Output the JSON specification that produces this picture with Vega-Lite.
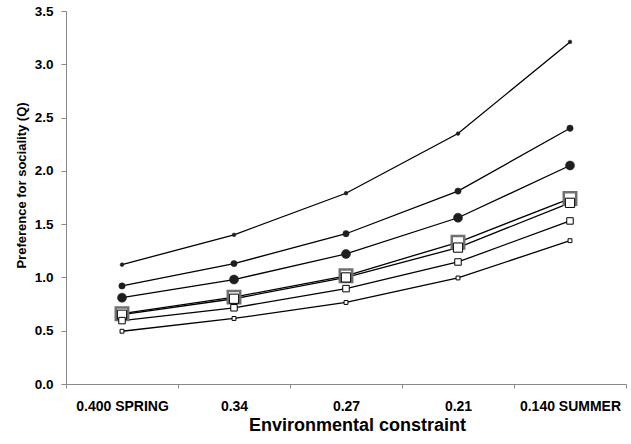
{
  "$schema": "https://vega.github.io/schema/vega-lite/v6.json",
  "width": 560,
  "height": 373,
  "autosize": "none",
  "padding": {"left": 66, "top": 11, "right": 5, "bottom": 60},
  "background": "white",
  "config": {"view": {"stroke": null}, "font": "Liberation Sans"},
  "data": {
    "values": [
      {"series": "S1", "constraint": "0.400 SPRING", "Q": 1.12},
      {"series": "S1", "constraint": "0.34", "Q": 1.40},
      {"series": "S1", "constraint": "0.27", "Q": 1.79},
      {"series": "S1", "constraint": "0.21", "Q": 2.35},
      {"series": "S1", "constraint": "0.140 SUMMER", "Q": 3.21},
      {"series": "S2", "constraint": "0.400 SPRING", "Q": 0.92},
      {"series": "S2", "constraint": "0.34", "Q": 1.13},
      {"series": "S2", "constraint": "0.27", "Q": 1.41},
      {"series": "S2", "constraint": "0.21", "Q": 1.81},
      {"series": "S2", "constraint": "0.140 SUMMER", "Q": 2.40},
      {"series": "S3", "constraint": "0.400 SPRING", "Q": 0.81},
      {"series": "S3", "constraint": "0.34", "Q": 0.98},
      {"series": "S3", "constraint": "0.27", "Q": 1.22},
      {"series": "S3", "constraint": "0.21", "Q": 1.56},
      {"series": "S3", "constraint": "0.140 SUMMER", "Q": 2.05},
      {"series": "S4", "constraint": "0.400 SPRING", "Q": 0.66},
      {"series": "S4", "constraint": "0.34", "Q": 0.815},
      {"series": "S4", "constraint": "0.27", "Q": 1.015},
      {"series": "S4", "constraint": "0.21", "Q": 1.33},
      {"series": "S4", "constraint": "0.140 SUMMER", "Q": 1.74},
      {"series": "S5", "constraint": "0.400 SPRING", "Q": 0.65},
      {"series": "S5", "constraint": "0.34", "Q": 0.80},
      {"series": "S5", "constraint": "0.27", "Q": 1.00},
      {"series": "S5", "constraint": "0.21", "Q": 1.28},
      {"series": "S5", "constraint": "0.140 SUMMER", "Q": 1.70},
      {"series": "S6", "constraint": "0.400 SPRING", "Q": 0.595},
      {"series": "S6", "constraint": "0.34", "Q": 0.715},
      {"series": "S6", "constraint": "0.27", "Q": 0.895},
      {"series": "S6", "constraint": "0.21", "Q": 1.145},
      {"series": "S6", "constraint": "0.140 SUMMER", "Q": 1.53},
      {"series": "S7", "constraint": "0.400 SPRING", "Q": 0.495},
      {"series": "S7", "constraint": "0.34", "Q": 0.615},
      {"series": "S7", "constraint": "0.27", "Q": 0.765},
      {"series": "S7", "constraint": "0.21", "Q": 0.995},
      {"series": "S7", "constraint": "0.140 SUMMER", "Q": 1.345}
    ]
  },
  "encoding": {
    "x": {
      "field": "constraint",
      "type": "ordinal",
      "sort": ["0.400 SPRING", "0.34", "0.27", "0.21", "0.140 SUMMER"],
      "scale": {"type": "band", "paddingInner": 0, "paddingOuter": 0},
      "axis": {
        "title": "Environmental constraint",
        "labelAngle": 0,
        "labelFontSize": 14,
        "labelFontWeight": "bold",
        "labelColor": "black",
        "labelPadding": 11,
        "tickSize": 4,
        "tickBand": "extent",
        "tickColor": "#888888",
        "domainColor": "#888888",
        "grid": false,
        "titleFontSize": 18,
        "titleFontWeight": "bold",
        "titleColor": "black",
        "titlePadding": 3,
        "titleX": 291
      }
    },
    "y": {
      "field": "Q",
      "type": "quantitative",
      "scale": {"domain": [0, 3.5], "nice": false, "zero": true},
      "axis": {
        "title": "Preference for sociality (Q)",
        "values": [0, 0.5, 1, 1.5, 2, 2.5, 3, 3.5],
        "format": ".1f",
        "labelFontSize": 13.5,
        "labelFontWeight": "bold",
        "labelColor": "black",
        "labelPadding": 8,
        "tickSize": 5,
        "tickColor": "#888888",
        "domainColor": "#888888",
        "grid": false,
        "titleFontSize": 13,
        "titleFontWeight": "bold",
        "titleColor": "black",
        "titleAngle": -90,
        "titleAlign": "center",
        "titleBaseline": "alphabetic",
        "titleX": -41,
        "titleY": 174
      }
    }
  },
  "layer": [
    {
      "mark": {"type": "line", "color": "black", "strokeWidth": 1.3},
      "encoding": {"detail": {"field": "series", "type": "nominal"}}
    },
    {
      "mark": {"type": "point", "filled": true, "opacity": 1, "fillOpacity": 1, "strokeOpacity": 1},
      "encoding": {
        "shape": {
          "field": "series", "type": "nominal", "legend": null,
          "scale": {"domain": ["S1","S2","S3","S4","S5","S6","S7"], "range": ["circle","circle","circle","square","square","square","square"]}
        },
        "fill": {
          "field": "series", "type": "nominal", "legend": null,
          "scale": {"domain": ["S1","S2","S3","S4","S5","S6","S7"], "range": ["#1e1e1e","#1e1e1e","#1e1e1e","white","white","white","white"]}
        },
        "stroke": {
          "field": "series", "type": "nominal", "legend": null,
          "scale": {"domain": ["S1","S2","S3","S4","S5","S6","S7"], "range": ["#1e1e1e","#1e1e1e","#1e1e1e","#707070","black","black","black"]}
        },
        "size": {
          "field": "series", "type": "nominal", "legend": null,
          "scale": {"type": "ordinal", "domain": ["S1","S2","S3","S4","S5","S6","S7"], "range": [14, 40, 82, 155, 85, 42, 15]}
        },
        "strokeWidth": {
          "field": "series", "type": "nominal", "legend": null,
          "scale": {"type": "ordinal", "domain": ["S1","S2","S3","S4","S5","S6","S7"], "range": [0.5, 0.5, 0.5, 2.5, 1, 1, 1]}
        }
      }
    }
  ]
}
